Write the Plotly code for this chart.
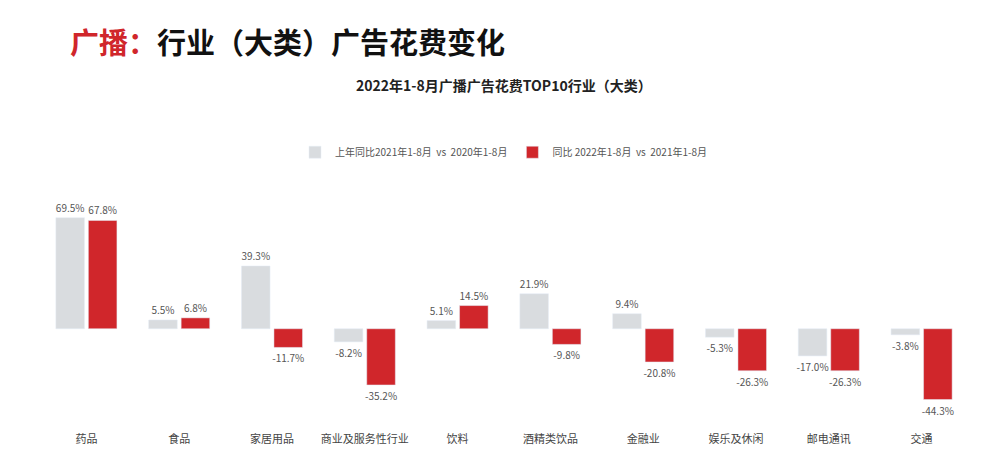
import plotly.graph_objects as go

categories = ['药品', '食品', '家居用品', '商业及服务性行业', '饮料', '酒精类饮品', '金融业', '娱乐及休闲', '邮电通讯', '交通']
prev_yoy = [69.5, 5.5, 39.3, -8.2, 5.1, 21.9, 9.4, -5.3, -17.0, -3.8]
curr_yoy = [67.8, 6.8, -11.7, -35.2, 14.5, -9.8, -20.8, -26.3, -26.3, -44.3]

font = "Noto Sans CJK SC"
fig = go.Figure()
fig.add_trace(go.Bar(x=categories, y=prev_yoy, name='上年同比2021年1-8月  vs  2020年1-8月',
                     marker_color='#d9dcdf', text=[f'{v:.1f}%' for v in prev_yoy],
                     textposition='outside', textfont=dict(size=10, color='#555'),
                     constraintext='none', cliponaxis=False))
fig.add_trace(go.Bar(x=categories, y=curr_yoy, name='同比 2022年1-8月  vs  2021年1-8月',
                     marker_color='#d0262b', text=[f'{v:.1f}%' for v in curr_yoy],
                     textposition='outside', textfont=dict(size=10, color='#555'),
                     constraintext='none', cliponaxis=False))
fig.update_layout(
    width=1000, height=450, plot_bgcolor='white', paper_bgcolor='white',
    font=dict(family=font, color='#444'),
    margin=dict(l=32, r=40, t=160, b=15),
    barmode='group', bargap=0.3, bargroupgap=0.12,
    legend=dict(orientation='h', x=0.5, xanchor='center', y=1.06, yanchor='middle',
                font=dict(size=10, color='#555'), itemwidth=30),
    xaxis=dict(tickfont=dict(size=11, color='#444'), showline=False, ticks=''),
    yaxis=dict(visible=False, range=[-64, 100.6]),
    showlegend=True,
)
fig.add_annotation(text="<b><span style='color:#d0262b'>广播：</span>行业（大类）广告花费变化</b>",
                   xref='paper', yref='paper', x=0.03, y=1.0, xanchor='left', yanchor='middle',
                   yshift=127, showarrow=False, font=dict(size=29, color='#111', family=font))
fig.add_annotation(text='<b>2022年1-8月广播广告花费TOP10行业（大类）</b>',
                   xref='paper', yref='paper', x=0.5, y=1.0, xanchor='center', yanchor='middle',
                   yshift=83, showarrow=False, font=dict(size=14, color='#222', family=font))
fig.write_html("out.html")
